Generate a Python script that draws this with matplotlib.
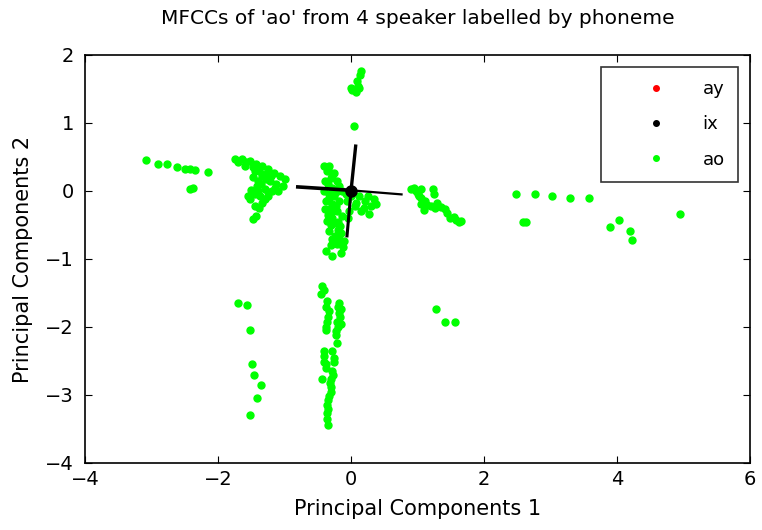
import matplotlib
matplotlib.use("Agg")
import matplotlib.pyplot as plt

# phoneme 'ao' points
ao_x = [
    # far left streak
    -3.09, -2.90, -2.76, -2.61, -2.50, -2.42, -2.34, -2.15, -2.42, -2.38,
    # left triangle cloud
    -1.75, -1.64, -1.52, -1.43, -1.34, -1.25, -1.16, -1.07, -1.00, -1.60,
    -1.45, -1.34, -1.22, -1.13, -1.03, -1.40, -1.30, -1.19, -1.37, -1.52,
    -1.45, -1.34, -1.55, -1.25, -1.42, -1.10, -1.43, -1.48,
    -1.70, -1.58, -1.48, -1.38, -1.30, -1.28, -1.20, -1.35, -1.48, -1.40,
    -1.30, -1.45, -1.15, -1.25, -1.50, -1.38,
    # centre cloud
    -0.40, -0.33, -0.36, -0.25, -0.30, -0.21, -0.39, -0.18, -0.40, -0.33,
    -0.25, -0.13, -0.37, -0.28, -0.18, -0.39, -0.30, -0.21, -0.13, -0.36,
    -0.25, -0.16, -0.33, -0.24, -0.15, -0.10, -0.21, -0.37, -0.28, -0.15,
    0.12, 0.21, 0.30, 0.34, 0.15, 0.06, 0.27, -0.06, -0.03, 0.00, 0.37,
    -0.35, -0.28, -0.35, -0.28, -0.22, -0.33, -0.22, -0.30, -0.35, -0.28,
    -0.20, -0.30, -0.20, -0.28, -0.18, -0.12, -0.30, 0.08, 0.20, 0.25,
    -0.08, -0.05,
    # top
    0.00, 0.12, 0.09, 0.15, 0.04, 0.07, 0.13, 0.02, 0.10,
    # right of centre
    0.90, 0.97, 1.06, 1.24, 1.06, 1.00, 1.06, 1.15, 1.27, 1.35,
    1.42, 1.49, 1.58, 1.66, 1.25, 1.10,
    0.95, 1.02, 1.12, 1.20, 1.30, 1.45, 1.55, 1.62,
    # far right
    2.48, 2.76, 3.03, 3.30, 3.58, 2.63, 2.58, 3.90, 4.03, 4.20, 4.22, 4.94,
    # lower middle column
    -0.43, -0.45, -0.36, -0.18, -0.33, -0.18, -0.36, -0.21, -0.37, -0.22,
    -0.21, -0.40, -0.28, -0.40, -0.25, -0.43, -0.30, -0.30, -0.33, -0.36,
    -0.36, -0.34, -0.15, -0.15, -0.37, -0.28,
    -0.40, -0.38, -0.35, -0.17, -0.20, -0.38, -0.20, -0.22, -0.40, -0.25,
    -0.38, -0.27, -0.32, -0.30, -0.35, -0.35, -0.36,
    # lower left column
    -1.70, -1.57, -1.52, -1.49, -1.46, -1.36, -1.42, -1.52,
    # lower right
    1.28, 1.42, 1.57,
]
ao_y = [
    0.46, 0.40, 0.40, 0.35, 0.33, 0.32, 0.31, 0.28, 0.03, 0.05,
    0.47, 0.47, 0.44, 0.40, 0.37, 0.32, 0.27, 0.22, 0.18, 0.37,
    0.29, 0.22, 0.15, 0.10, 0.07, 0.15, 0.03, 0.00, -0.07, -0.12,
    -0.22, -0.18, -0.07, -0.07, 0.07, 0.00, -0.37, -0.41,
    0.42, 0.42, 0.35, 0.30, 0.25, 0.18, 0.22, 0.10, 0.20, 0.00,
    -0.12, -0.05, 0.05, -0.02, 0.02, -0.25,
    0.37, 0.37, 0.29, 0.27, 0.19, 0.15, 0.15, 0.07, 0.00, -0.04,
    -0.07, 0.00, -0.15, -0.19, -0.15, -0.27, -0.32, -0.29, -0.37, -0.44,
    -0.47, -0.52, -0.59, -0.66, -0.62, -0.74, -0.78, -0.88, -0.96, -0.91,
    -0.07, -0.15, -0.22, -0.12, -0.29, -0.22, -0.34, -0.15, -0.29, -0.07, -0.19,
    0.32, 0.22, 0.10, 0.05, -0.02, -0.10, -0.22, -0.25, -0.35, -0.40,
    -0.45, -0.50, -0.58, -0.70, -0.70, -0.82, -0.80, -0.18, -0.25, -0.08,
    -0.05, -0.40,
    1.52, 1.52, 1.62, 1.77, 0.96, 1.45, 1.70, 1.48, 1.55,
    0.03, 0.00, 0.03, 0.03, -0.10, -0.05, -0.19, -0.20, -0.25, -0.24,
    -0.27, -0.40, -0.42, -0.44, -0.05, -0.28,
    0.05, -0.08, -0.15, -0.22, -0.18, -0.33, -0.38, -0.45,
    -0.05, -0.05, -0.07, -0.11, -0.11, -0.46, -0.46, -0.53, -0.43, -0.59, -0.72, -0.34,
    -1.40, -1.52, -1.62, -1.65, -1.77, -1.80, -1.92, -1.92, -2.04, -2.06,
    -2.24, -2.36, -2.36, -2.51, -2.51, -2.77, -2.76, -2.88, -3.02, -3.14,
    -3.27, -3.44, -1.73, -1.96, -2.61, -2.65,
    -1.45, -1.70, -1.85, -1.85, -1.70, -2.00, -2.00, -2.12, -2.42, -2.45,
    -2.55, -2.70, -2.82, -2.95, -3.08, -3.20, -3.35,
    -1.64, -1.68, -2.04, -2.55, -2.70, -2.85, -3.04, -3.29,
    -1.74, -1.92, -1.92,
]

# 'ay' sits under the black cross at the origin
ay_x = [0.0]
ay_y = [0.0]

# 'ix' cross: two strokes through the origin
ix_h_x = [-0.80, 0.00, 0.76]
ix_h_y = [0.06, 0.01, -0.05]
ix_v_x = [0.07, 0.00, -0.06]
ix_v_y = [0.66, 0.00, -0.66]

plt.rcParams['font.family'] = ['DejaVu Sans']

fig = plt.figure(figsize=(7.62, 5.30), dpi=100)
ax = fig.add_axes([85 / 762, 1 - 463 / 530, (750 - 85) / 762, (463 - 55) / 530])

ax.plot(ao_x, ao_y, linestyle='none', marker='o', markersize=5,
        color='#00ff00', zorder=2)
ax.plot(ay_x, ay_y, linestyle='none', marker='o', markersize=5,
        color='red', zorder=3)
ax.plot(ix_h_x[:2], ix_h_y[:2], color='black', lw=2.6, zorder=4)
ax.plot(ix_h_x[1:], ix_h_y[1:], color='black', lw=1.6, zorder=4)
ax.plot(ix_v_x[:2], ix_v_y[:2], color='black', lw=2.4, zorder=4)
ax.plot(ix_v_x[1:], ix_v_y[1:], color='black', lw=2.2, zorder=4)
ax.plot([0], [0], marker='o', markersize=8, color='black', zorder=5)

# legend proxies
h_ay, = ax.plot([], [], linestyle='none', marker='o', markersize=4, color='red')
h_ix, = ax.plot([], [], linestyle='none', marker='o', markersize=4, color='black')
h_ao, = ax.plot([], [], linestyle='none', marker='o', markersize=4, color='#00ff00')
leg = ax.legend([h_ay, h_ix, h_ao], ['ay', 'ix', 'ao'], loc='upper right',
                fontsize=13, frameon=True, fancybox=False, edgecolor='black',
                handlelength=4.6, handletextpad=0.3, borderpad=0.75,
                labelspacing=0.95, borderaxespad=0.65, numpoints=1)
leg.get_frame().set_linewidth(1.2)

ax.set_xlim(-4, 6)
ax.set_ylim(-4, 2)
ax.set_xticks([-4, -2, 0, 2, 4, 6])
ax.set_yticks([-4, -3, -2, -1, 0, 1, 2])
ax.tick_params(direction='in', top=True, right=True, labelsize=14, length=5)
ax.tick_params(axis='y', pad=8)
ax.tick_params(axis='x', pad=5)
for s in ax.spines.values():
    s.set_linewidth(1.2)

ax.set_xlabel('Principal Components 1', fontsize=15, labelpad=7)
ax.set_ylabel('Principal Components 2', fontsize=15, labelpad=9)
ax.set_title("MFCCs of 'ao' from 4 speaker labelled by phoneme", fontsize=14.5, pad=22)

fig.savefig('out.png', dpi=100)
